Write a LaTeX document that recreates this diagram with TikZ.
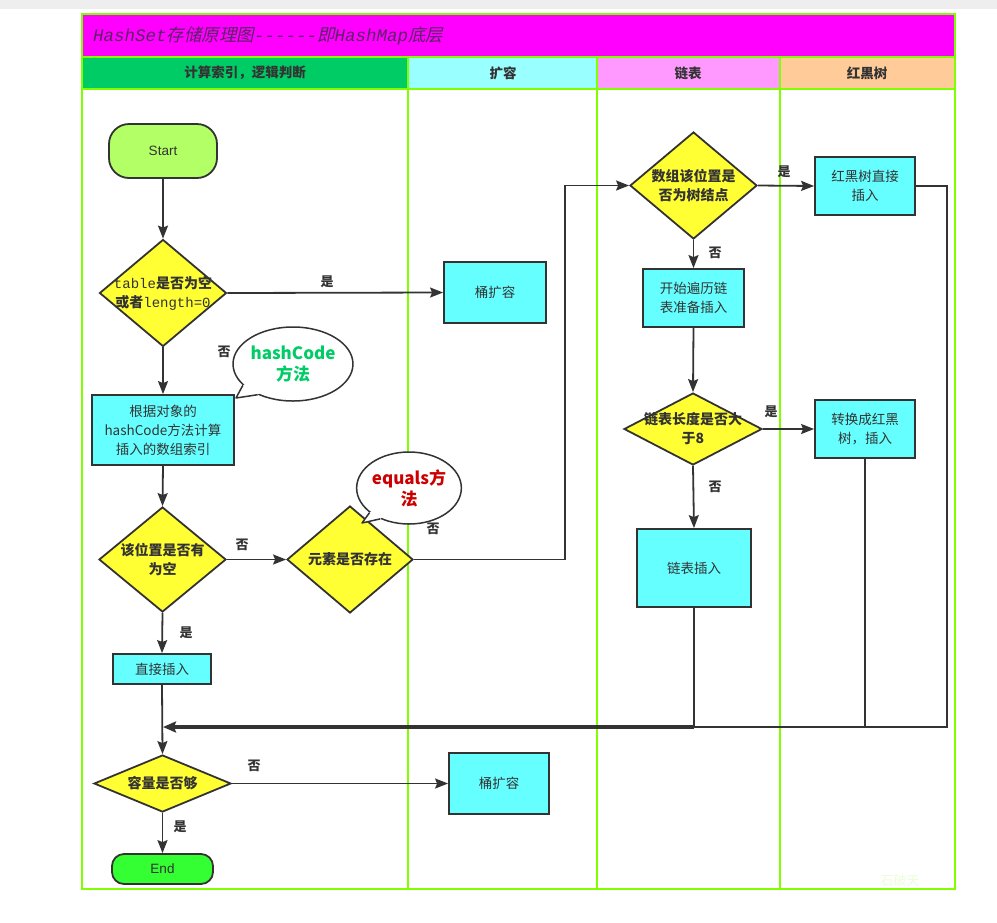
\documentclass[tikz,border=0pt]{standalone}
\usepackage{fontspec}
\setmainfont{Noto Sans CJK SC}
\newfontfamily\tmono{Liberation Mono}
\newfontfamily\tcjk{Noto Sans CJK SC}[FakeSlant=0.22]
\newfontfamily\arial{Liberation Sans}
\newfontfamily\watermk{Noto Sans CJK SC}
\usetikzlibrary{shapes.geometric,arrows.meta,calc}
\definecolor{laneg}{HTML}{80FF00}
\definecolor{titlebg}{HTML}{FF00FF}
\definecolor{titlec}{HTML}{5C2268}
\definecolor{hgreen}{HTML}{00CC66}
\definecolor{hcyan}{HTML}{99FFFF}
\definecolor{hpink}{HTML}{FF99FF}
\definecolor{horange}{HTML}{FFCC99}
\definecolor{boxc}{HTML}{66FFFF}
\definecolor{yel}{HTML}{FFFF33}
\definecolor{startg}{HTML}{B3FF66}
\definecolor{endg}{HTML}{33FF33}
\definecolor{lc}{HTML}{333333}
\definecolor{txt}{HTML}{333333}
\definecolor{topgray}{HTML}{EEEEEE}
\definecolor{codegreen}{HTML}{00CC66}
\definecolor{codered}{HTML}{CC0000}
\definecolor{wmark}{HTML}{E8FFD8}
\tikzset{
  lane/.style={draw=laneg, line width=2.2pt},
  headtext/.style={font=\bfseries\fontsize{13.5}{16}\selectfont, text=txt},
  box/.style={rectangle, draw=lc, line width=1.8pt, fill=boxc, text=txt, align=center, inner sep=0pt,
    font=\fontsize{13.5}{19}\selectfont},
  term/.style={rectangle, draw=lc, line width=1.8pt, text=txt, inner sep=0pt,
    font=\arial\fontsize{13.5}{16}\selectfont},
  dia/.style={diamond, draw=lc, line width=1.8pt, fill=yel, inner sep=0pt},
  dtext/.style={font=\bfseries\fontsize{14}{19}\selectfont, text=txt, align=center, inner sep=0pt},
  lbl/.style={font=\bfseries\fontsize{13}{15}\selectfont, text=txt, inner sep=0pt},
  arr/.style={draw=lc, line width=1.8pt, -{Stealth[length=13pt,width=10pt,inset=2pt]}},
  ln/.style={draw=lc, line width=1.8pt},
  thick arr/.style={draw=lc, line width=3.6pt, -{Stealth[length=13pt,width=11pt,inset=2pt]}},
  callout/.style={ellipse, draw=lc, line width=1.5pt, fill=white, inner sep=0pt, align=center,
    font=\bfseries\fontsize{17}{21}\selectfont},
}
\begin{document}
\begin{tikzpicture}[x=1pt,y=-1pt]
\useasboundingbox (0,0) rectangle (997,922);
\fill[topgray] (0,0) rectangle (997,9);
% title band and headers
\fill[titlebg] (82,14) rectangle (955,57);
\fill[hgreen] (82,57) rectangle (408,89);
\fill[hcyan] (408,57) rectangle (597,89);
\fill[hpink] (597,57) rectangle (780,89);
\fill[horange] (780,57) rectangle (955,89);
\draw[lane] (82,14) rectangle (955,889);
\draw[lane] (82,57) -- (955,57);
\draw[lane] (82,89) -- (955,89);
\draw[lane] (408,57) -- (408,889);
\draw[lane] (597,57) -- (597,889);
\draw[lane] (780,57) -- (780,889);
\node[anchor=west, text=titlec, inner sep=0pt, font=\fontsize{17.5}{20}\selectfont] (title) at (93,36)
  {{\tmono\itshape HashSet}{\tcjk 存储原理图}{\tmono\itshape ------}{\tcjk 即}{\tmono\itshape HashMap}{\tcjk 底层}};
\node[headtext] (h1) at (245,73) {计算索引，逻辑判断};
\node[headtext] (h2) at (503,73) {扩容};
\node[headtext] (h3) at (688,73) {链表};
\node[headtext] (h4) at (867,73) {红黑树};

% nodes
\node[term, fill=startg, rounded corners=20pt, minimum width=108pt, minimum height=54pt] (start) at (163,151) {Start};
\node[dia, minimum width=127pt, minimum height=107pt] (d1) at (163,293) {};
\node[dtext] (d1t) at (d1.center) {{\tmono\mdseries table}是否为空\\或者{\tmono\mdseries length=0}};
\node[box, minimum width=102pt, minimum height=61pt] (ex1) at (495,292.5) {桶扩容};
\node[box, minimum width=142pt, minimum height=70pt] (idx) at (163,430) {根据对象的\\hashCode方法计算\\插入的数组索引};
\node[dia, minimum width=127pt, minimum height=105pt] (d2) at (162.5,559.5) {};
\node[dtext] (d2t) at (d2.center) {该位置是否有\\为空};
\node[dia, minimum width=126pt, minimum height=107pt] (d3) at (350,559.5) {};
\node[dtext] (d3t) at (d3.center) {元素是否存在};
\node[dia, minimum width=127pt, minimum height=107pt] (d4) at (693.5,185.5) {};
\node[dtext] (d4t) at (d4.center) {数组该位置是\\否为树结点};
\node[box, minimum width=100pt, minimum height=58pt] (rbt1) at (865,186) {红黑树直接\\插入};
\node[box, minimum width=101pt, minimum height=58pt] (trav) at (693.5,298) {开始遍历链\\表准备插入};
\node[dia, minimum width=138pt, minimum height=72pt] (d5) at (693,429) {};
\node[dtext] (d5t) at (d5.center) {链表长度是否大\\于8};
\node[box, minimum width=100pt, minimum height=58pt] (rbt2) at (865,429) {转换成红黑\\树，插入};
\node[box, minimum width=114pt, minimum height=78pt] (llins) at (694,568) {链表插入};
\node[box, minimum width=98pt, minimum height=30pt] (direct) at (162,669) {直接插入};
\node[dia, minimum width=137pt, minimum height=57pt] (d6) at (162.5,783.5) {};
\node[dtext] (d6t) at (d6.center) {容量是否够};
\node[box, minimum width=100pt, minimum height=61pt] (ex2) at (499,783.5) {桶扩容};
\node[term, fill=endg, rounded corners=12pt, minimum width=101pt, minimum height=30pt] (end) at (162.5,869) {End};

% callouts
\node[callout, text=codegreen, minimum width=114pt, minimum height=74pt] (hc) at (293,364) {hashCode\\方法};
\coordinate (hctip) at (236,398);
\fill[white] ($(hc.center)!0.8!(hc.203)$) -- (hc.203) -- (hctip) -- (hc.221) -- ($(hc.center)!0.8!(hc.221)$) -- cycle;
\draw[lc, line width=1.5pt, line join=round] (hc.203) -- (hctip) -- (hc.221);
\node[callout, text=codered, minimum width=98pt, minimum height=72pt] (eq) at (409,488) {equals方\\法};
\coordinate (eqtip) at (362,523);
\fill[white] ($(eq.center)!0.8!(eq.212)$) -- (eq.212) -- (eqtip) -- (eq.227) -- ($(eq.center)!0.8!(eq.227)$) -- cycle;
\draw[lc, line width=1.5pt, line join=round] (eq.212) -- (eqtip) -- (eq.227);

% connectors
\draw[arr] (start.south) -- (d1.north);
\draw[arr] (d1.east) -- (ex1.west);
\node[lbl] (l1) at (327,282) {是};
\draw[arr] (d1.south) -- (idx.north);
\node[lbl] (l2) at (224,352) {否};
\draw[arr] (idx.south) -- (d2.north);
\draw[arr] (d2.east) -- (d3.west);
\node[lbl] (l3) at (242,545) {否};
\coordinate (k1) at (565,0);
\draw[arr] (d3.east) -- (d3.east -| k1) -- (k1 |- d4.west) -- (d4.west);
\node[lbl] (l4) at (433,529) {否};
\draw[arr] (d4.east) -- (rbt1.west);
\node[lbl] (l5) at (784,172) {是};
\draw[arr] (d4.south) -- (trav.north);
\node[lbl] (l6) at (715,253) {否};
\draw[arr] (trav.south) -- (d5.north);
\draw[arr] (d5.east) -- (rbt2.west);
\node[lbl] (l7) at (771,412) {是};
\draw[arr] (d5.south) -- (llins.north);
\node[lbl] (l8) at (715,487) {否};
\draw[arr] (d2.south) -- (direct.north);
\node[lbl] (l9) at (186,633) {是};
\draw[arr] (direct.south) -- (d6.north);
\coordinate (j) at (163,727);
\coordinate (k2) at (947,727);
\draw[ln] (llins.south) -- (llins.south |- j);
\draw[ln] (rbt2.south) -- (rbt2.south |- j);
\draw[ln, line join=miter] (rbt1.east) -- (rbt1.east -| k2) -- (k2) -- (llins.south |- j);
\draw[thick arr] (llins.south |- j) -- (j);
\draw[arr] (d6.east) -- (ex2.west);
\node[lbl] (l10) at (254,766) {否};
\draw[arr] (d6.south) -- (end.north);
\node[lbl] (l11) at (180,827) {是};
\node[text=wmark, font=\watermk\fontsize{13}{15}\selectfont] (wm) at (900,881) {石破天};
\end{tikzpicture}
\end{document}
